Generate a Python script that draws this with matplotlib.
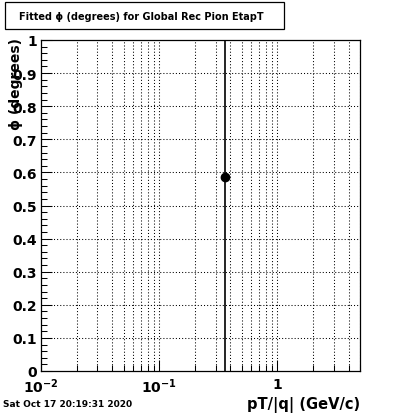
import matplotlib
matplotlib.use("Agg")
import matplotlib.pyplot as plt
import matplotlib.patches as patches
from matplotlib.ticker import FixedLocator, NullFormatter

# data
pt = [0.36]
phi = [0.587]
phi_err = [2.0]

xmajor = [0.01, 0.1, 1.0]
xmajor_labels = [r"$\mathbf{10^{-2}}$", r"$\mathbf{10^{-1}}$", r"$\mathbf{1}$"]
xminor = [m * d for d in (0.01, 0.1, 1.0) for m in range(2, 10) if m * d <= 5]
yticks = [0, 0.1, 0.2, 0.3, 0.4, 0.5, 0.6, 0.7, 0.8, 0.9, 1.0]
ytick_labels = ["0", "0.1", "0.2", "0.3", "0.4", "0.5", "0.6", "0.7", "0.8", "0.9", "1"]
yminor = [i * 0.02 for i in range(51)]

title = "Fitted \u03d5 (degrees) for Global Rec Pion EtapT"
xlabel = "pT/|q| (GeV/c)"
ylabel = "\u03d5 (degrees)"
datestr = "Sat Oct 17 20:19:31 2020"

plt.rcParams['font.family'] = ['DejaVu Sans']
plt.rcParams['mathtext.fontset'] = 'dejavusans'

fig = plt.figure(figsize=(4.0, 4.14), dpi=100)
ax = fig.add_axes([41/400, 42/414, 319/400, 331/414])
ax.set_xscale('log')
ax.set_xlim(0.01, 5)
ax.set_ylim(0, 1)

dot = (0, (1, 2))
for x in xminor:
    ax.axvline(x, color='black', lw=0.75, ls=dot, zorder=1)
for x in xmajor[1:]:
    ax.axvline(x, color='black', lw=0.75, ls=dot, zorder=1)
for y in yticks[1:-1]:
    ax.axhline(y, color='black', lw=0.75, ls=dot, zorder=1)

ax.errorbar(pt, phi, yerr=phi_err, fmt='o', color='black', ms=6,
            elinewidth=1.2, capsize=0, zorder=3)

ax.xaxis.set_major_locator(FixedLocator(xmajor))
ax.set_xticklabels(xmajor_labels)
ax.xaxis.set_minor_locator(FixedLocator(xminor))
ax.xaxis.set_minor_formatter(NullFormatter())
ax.set_yticks(yticks)
ax.set_yticklabels(ytick_labels)
ax.yaxis.set_minor_locator(FixedLocator(yminor))

ax.tick_params(axis='both', which='major', direction='in', length=8, width=0.75,
               labelsize=10, color='black')
ax.tick_params(axis='both', which='minor', direction='in', length=4, width=0.75)
ax.tick_params(axis='y', which='major', pad=3)
ax.tick_params(axis='x', which='major', pad=4)
for lab in ax.get_yticklabels() + ax.get_xticklabels():
    lab.set_fontweight('bold')
for s in ax.spines.values():
    s.set_linewidth(0.9)

fig.text(360/400, 1 - 405/414, xlabel, ha='right', va='center',
         fontsize=10.5, fontweight='bold')
fig.text(16/400, 1 - 38/414, ylabel, ha='center', va='top', rotation=90,
         fontsize=10, fontweight='bold')
fig.text(3/400, 1 - 405/414, datestr, ha='left', va='center',
         fontsize=6.5, fontweight='bold')

box = patches.Rectangle((5/400, 1 - 30/414), 279/400, 27/414, transform=fig.transFigure,
                        fill=False, edgecolor='black', lw=0.9)
fig.add_artist(box)
fig.text(141/400, 1 - 17/414, title, ha='center', va='center', fontsize=7,
         fontweight='bold')

fig.savefig("out.png", dpi=100)
